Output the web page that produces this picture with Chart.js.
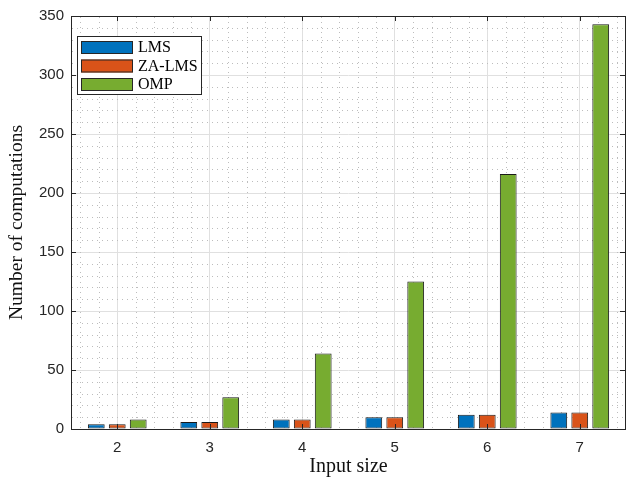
<!DOCTYPE html>
<html>
<head>
<meta charset="utf-8">
<script src="https://cdn.jsdelivr.net/npm/chart.js@4/dist/chart.umd.min.js"></script>
<style>
  html, body { margin: 0; padding: 0; background: #fff; }
  #wrap { width: 627px; height: 480px; }
</style>
</head>
<body>
<div id="wrap"><canvas id="myChart" width="627" height="480"></canvas></div>
<script>
var sizes = ['2', '3', '4', '5', '6', '7']
var lmsOps = [4, 6, 8, 10, 12, 14]
var zaLmsOps = [4, 6, 8, 10, 12, 14]
var ompOps = [8, 27, 64, 125, 216, 343]
var yTicks = [0, 50, 100, 150, 200, 250, 300, 350]

var serif = "'Liberation Serif', 'DejaVu Serif', serif"
var sans = "'Liberation Sans', Arial, sans-serif"

// box, minor grid and inward ticks like matlab
var axesBox = {
  id: 'axesBox',
  beforeDatasetsDraw: function (chart) {
    var ctx = chart.ctx, a = chart.chartArea
    var x = chart.scales.x, y = chart.scales.y
    ctx.save()
    ctx.strokeStyle = '#bdbdbd'
    ctx.lineWidth = 1
    ctx.setLineDash([1, 4])
    for (var v = 10; v < 350; v += 10) {
      if (v % 50 === 0) continue
      var py = Math.round(y.getPixelForValue(v)) + 0.5
      ctx.beginPath(); ctx.moveTo(a.left + 1, py); ctx.lineTo(a.right, py); ctx.stroke()
    }
    var step = x.getPixelForValue(1) - x.getPixelForValue(0)
    for (var i = -1; i < sizes.length; i++) {
      for (var k = 1; k < 5; k++) {
        var px = Math.round(x.getPixelForValue(i) + step * k / 5) + 0.5
        if (px <= a.left || px >= a.right) continue
        ctx.beginPath(); ctx.moveTo(px, a.top + 1); ctx.lineTo(px, a.bottom); ctx.stroke()
      }
    }
    ctx.restore()
  },
  afterDatasetsDraw: function (chart) {
    var ctx = chart.ctx, a = chart.chartArea
    var x = chart.scales.x, y = chart.scales.y
    ctx.save()
    ctx.strokeStyle = '#262626'
    ctx.lineWidth = 1
    ctx.strokeRect(Math.round(a.left) + 0.5, Math.round(a.top) + 0.5,
      Math.round(a.right - a.left) - 1, Math.round(a.bottom - a.top))
    yTicks.forEach(function (v) {
      var py = Math.round(y.getPixelForValue(v)) + 0.5
      ctx.beginPath(); ctx.moveTo(a.left, py); ctx.lineTo(a.left + 5, py); ctx.stroke()
      ctx.beginPath(); ctx.moveTo(a.right - 6, py); ctx.lineTo(a.right, py); ctx.stroke()
    })
    sizes.forEach(function (s, i) {
      var px = Math.round(x.getPixelForValue(i)) + 0.5
      ctx.beginPath(); ctx.moveTo(px, a.bottom); ctx.lineTo(px, a.bottom - 5); ctx.stroke()
      ctx.beginPath(); ctx.moveTo(px, a.top); ctx.lineTo(px, a.top + 5); ctx.stroke()
    })
    ctx.restore()
  }
}

var boxLegend = {
  id: 'boxLegend',
  afterDraw: function (chart) {
    var ctx = chart.ctx
    ctx.save()
    ctx.fillStyle = '#fff'
    ctx.fillRect(77, 36, 124, 58)
    ctx.strokeStyle = '#262626'
    ctx.lineWidth = 1
    ctx.strokeRect(77.5, 36.5, 124, 58)
    ctx.font = '16px ' + serif
    ctx.textBaseline = 'middle'
    chart.data.datasets.forEach(function (ds, i) {
      var yy = 41 + i * 18.5
      ctx.fillStyle = ds.backgroundColor
      ctx.fillRect(81, yy, 52, 13)
      ctx.strokeStyle = '#262626'
      ctx.strokeRect(81.5, yy + 0.5, 51, 12)
      ctx.fillStyle = '#000'
      ctx.fillText(ds.label, 138, yy + 7)
    })
    ctx.restore()
  }
}

var data = {
  labels: sizes,
  datasets: [
    { label: 'LMS', data: lmsOps, backgroundColor: '#0072BD' },
    { label: 'ZA-LMS', data: zaLmsOps, backgroundColor: '#D95319' },
    { label: 'OMP', data: ompOps, backgroundColor: '#77AC30' }
  ].map(function (d) {
    d.borderColor = '#1a1a1a'
    d.borderWidth = 1
    d.borderSkipped = false
    d.categoryPercentage = 0.68
    d.barPercentage = 0.8
    return d
  })
}

var config = {
  type: 'bar',
  data: data,
  options: {
    responsive: false,
    animation: false,
    layout: { padding: { top: 15, right: 1, left: 0, bottom: 0 } },
    plugins: { legend: { display: false }, tooltip: { enabled: false } },
    scales: {
      x: {
        offset: true,
        grid: { offset: false, color: '#e0e0e0', drawTicks: false },
        border: { display: false },
        ticks: { color: '#262626', font: { family: sans, size: 15 }, padding: 10 },
        title: { display: true, text: 'Input size', color: '#111', font: { family: serif, size: 20 }, padding: { top: 0, bottom: 1 } },
        afterFit: function (s) { s.height = 51 }
      },
      y: {
        min: 0,
        max: 350,
        ticks: { stepSize: 50, color: '#262626', font: { family: sans, size: 15 }, padding: 7 },
        grid: { color: '#e0e0e0', drawTicks: false },
        border: { display: false },
        title: { display: true, text: 'Number of computations', color: '#111', font: { family: serif, size: 19.5 }, padding: { top: 5, bottom: 0 } },
        afterFit: function (s) { s.width = 71 }
      }
    }
  },
  plugins: [axesBox, boxLegend]
}

var myChart = new Chart(document.getElementById('myChart'), config)
</script>
</body>
</html>
